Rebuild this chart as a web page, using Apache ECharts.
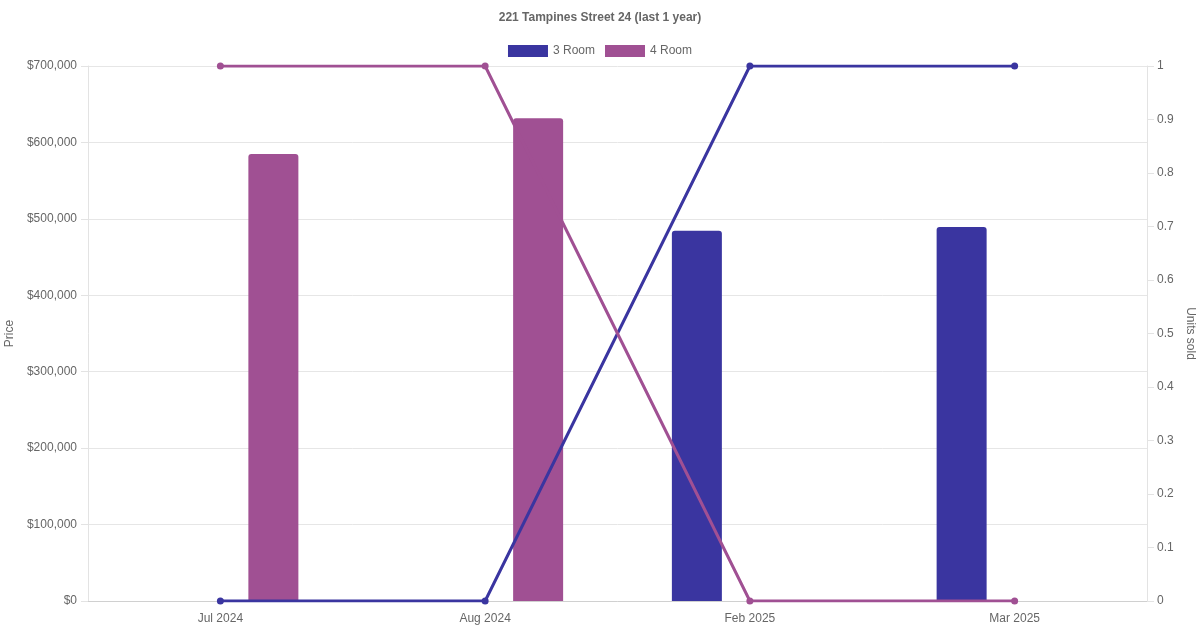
<!DOCTYPE html>
<html>
<head>
<meta charset="utf-8">
<script src="https://cdn.jsdelivr.net/npm/echarts@6/dist/echarts.min.js"></script>
<style>
  html, body { margin: 0; padding: 0; background: #fff; }
  #chart { width: 1200px; height: 630px; }
</style>
</head>
<body>
<div id="chart"></div>
<script>
var months = ['Jul 2024', 'Aug 2024', 'Feb 2025', 'Mar 2025'];
var price3Room = [null, null, 484500, 489500];
var price4Room = [585000, 631500, null, null];
var units3Room = [0, 0, 1, 1];
var units4Room = [1, 1, 0, 0];

var BLUE = '#3a35a0',
  PURPLE = '#a05093',
  TXT = '#666';

var chart = echarts.init(document.getElementById('chart'));

function barSeries(name, data, color) {
  return {
    name: name,
    type: 'bar',
    yAxisIndex: 0,
    data: data,
    barWidth: 50,
    barGap: '112%',
    z: 2,
    itemStyle: { color: color, borderRadius: [3, 3, 0, 0] }
  };
}

function lineSeries(name, data, color, z) {
  return {
    name: name,
    type: 'line',
    yAxisIndex: 1,
    data: data,
    z: z,
    symbol: 'circle',
    symbolSize: 7,
    lineStyle: { color: color, width: 3 },
    itemStyle: { color: color }
  };
}

chart.setOption({
  animation: false,
  textStyle: { fontFamily: 'Liberation Sans, Arial, sans-serif' },
  title: {
    text: '221 Tampines Street 24 (last 1 year)',
    left: 'center',
    top: 7,
    textStyle: { color: TXT, fontSize: 12, fontWeight: 'bold' }
  },
  legend: {
    top: 40,
    left: 'center',
    itemWidth: 40,
    itemHeight: 12,
    itemGap: 10,
    icon: 'rect',
    data: ['3 Room', '4 Room'],
    textStyle: { color: TXT, fontSize: 12 }
  },
  color: [BLUE, PURPLE],
  grid: {
    left: 88,
    right: 53,
    top: 66,
    bottom: 29,
    containLabel: false,
    outerBoundsMode: 'none'
  },
  xAxis: {
    type: 'category',
    data: months,
    axisLine: { lineStyle: { color: '#d0d0d0' } },
    axisTick: { show: false },
    axisLabel: { color: TXT, fontSize: 12, margin: 12 },
    splitLine: { show: false }
  },
  yAxis: [
    {
      type: 'value',
      min: 0,
      max: 700000,
      interval: 100000,
      name: 'Price',
      nameLocation: 'middle',
      nameGap: 66,
      nameTextStyle: { color: TXT, fontSize: 12 },
      axisLine: { show: true, lineStyle: { color: '#e3e3e3' } },
      axisTick: { show: true, length: 7, lineStyle: { color: '#e3e3e3' } },
      axisLabel: {
        color: TXT,
        fontSize: 12,
        margin: 11,
        formatter: function(v) {
          return '$' + v.toLocaleString('en-US');
        }
      },
      splitLine: { lineStyle: { color: '#e6e6e6' } }
    },
    {
      type: 'value',
      min: 0,
      max: 1,
      interval: 0.1,
      name: 'Units sold',
      nameLocation: 'middle',
      nameGap: 33,
      nameRotate: -90,
      nameTextStyle: { color: TXT, fontSize: 12 },
      axisLine: { show: true, lineStyle: { color: '#e3e3e3' } },
      axisTick: { show: true, length: 7, lineStyle: { color: '#e3e3e3' } },
      axisLabel: {
        color: TXT,
        fontSize: 12,
        margin: 10,
        formatter: function(v) {
          return String(Math.round(v * 10) / 10);
        }
      },
      splitLine: { show: false }
    }
  ],
  series: [
    barSeries('3 Room', price3Room, BLUE),
    barSeries('4 Room', price4Room, PURPLE),
    lineSeries('3 Room', units3Room, BLUE, 3),
    lineSeries('4 Room', units4Room, PURPLE, 4)
  ]
});
</script>
</body>
</html>
